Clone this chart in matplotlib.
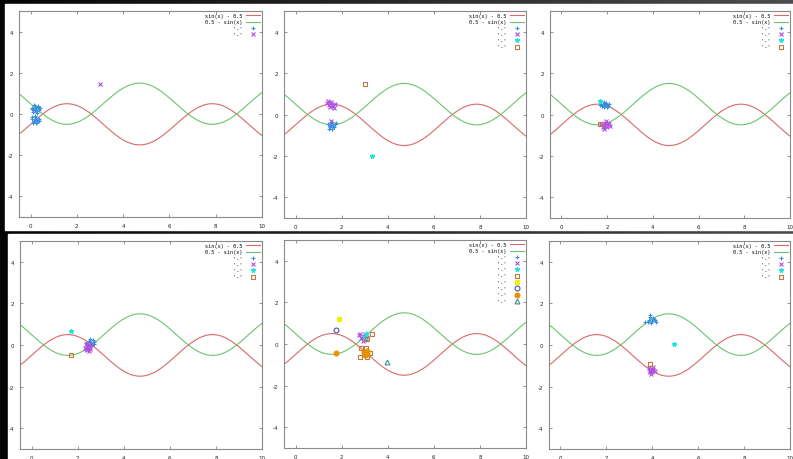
import numpy as np
import matplotlib.pyplot as plt
from matplotlib.patches import Rectangle

plt.rcParams['axes.unicode_minus'] = False

# ---- data (six gnuplot frames) ----
# each panel: list of point series (x list, y list)
p1_s1_x = [0.05, 0.12, 0.18, 0.25, 0.30, 0.10, 0.22, 0.35, 0.15, 0.28, 0.40, 0.08, 0.20, 0.32,
           0.05, 0.15, 0.22, 0.30, 0.12, 0.25, 0.35, 0.18, 0.08, 0.28, 0.20, 0.38]
p1_s1_y = [0.30, 0.22, 0.38, 0.15, 0.32, 0.10, 0.28, 0.20, 0.42, 0.05, 0.30, 0.25, 0.18, 0.40,
           -0.25, -0.35, -0.20, -0.30, -0.42, -0.45, -0.22, -0.28, -0.15, -0.38, -0.10, -0.35]
p1_s2_x = [3.0]
p1_s2_y = [1.45]

p2_s1_x = [1.40, 1.50, 1.55, 1.62, 1.70, 1.45, 1.58, 1.52, 1.66, 1.75, 1.48, 1.60]
p2_s1_y = [-0.45, -0.60, -0.40, -0.55, -0.48, -0.70, -0.35, -0.52, -0.62, -0.42, -0.55, -0.72]
p2_s2_x = [1.35, 1.45, 1.55, 1.62, 1.50, 1.70, 1.40, 1.58, 1.65, 1.48, 1.52]
p2_s2_y = [0.55, 0.45, 0.60, 0.40, 0.35, 0.52, 0.65, 0.48, 0.30, 0.55, -0.32]
p2_s3_x = [3.33]
p2_s3_y = [-2.0]
p2_s4_x = [3.0]
p2_s4_y = [1.45]

p3_s1_x = [1.70, 1.80, 1.88, 1.95, 2.05, 1.85, 1.92, 2.00, 1.78, 2.10, 1.98]
p3_s1_y = [0.45, 0.50, 0.38, 0.55, 0.42, 0.60, 0.48, 0.35, 0.40, 0.50, 0.44]
p3_s2_x = [1.75, 1.85, 1.92, 2.00, 2.08, 1.88, 1.95, 1.80, 2.02, 1.90, 2.12]
p3_s2_y = [-0.45, -0.55, -0.40, -0.60, -0.48, -0.68, -0.30, -0.60, -0.42, -0.50, -0.55]
p3_s3_x = [1.68]
p3_s3_y = [0.64]
p3_s4_x = [1.70]
p3_s4_y = [-0.48]

p4_s1_x = [2.40, 2.50, 2.58, 2.65, 2.72, 2.45, 2.55, 2.62, 2.48, 2.70, 2.35]
p4_s1_y = [0.05, 0.20, 0.10, 0.25, 0.05, -0.05, 0.30, -0.02, 0.15, 0.15, 0.10]
p4_s2_x = [2.30, 2.40, 2.45, 2.52, 2.38, 2.55, 2.48, 2.42, 2.58, 2.35]
p4_s2_y = [-0.15, -0.25, 0.00, -0.10, 0.05, -0.20, -0.30, -0.08, 0.05, -0.20]
p4_s3_x = [1.72]
p4_s3_y = [0.68]
p4_s4_x = [1.72]
p4_s4_y = [-0.47]

p5_s1_x = [3.06, 3.10, 2.98, 3.05]
p5_s1_y = [0.55, 0.40, 0.30, 0.20]
p5_s2_x = [2.75, 2.85, 2.95, 3.00, 2.80, 3.05, 2.92, 3.02]
p5_s2_y = [0.45, 0.30, 0.40, 0.25, 0.50, 0.35, 0.15, 0.48]
p5_s3_x = [3.05, 3.00]
p5_s3_y = [0.50, 0.35]
p5_s4_x = [3.30, 3.08, 2.85, 3.05, 2.80, 3.25, 2.95, 3.10]
p5_s4_y = [0.48, 0.22, -0.20, -0.20, -0.62, -0.45, -0.50, -0.62]
p5_s5_x = [1.90]
p5_s5_y = [1.20]
p5_s6_x = [1.74]
p5_s6_y = [0.67]
p5_s7_x = [1.74, 2.98, 3.05, 3.10, 3.00, 3.08]
p5_s7_y = [-0.45, -0.38, -0.45, -0.35, -0.52, -0.50]
p5_s8_x = [3.96]
p5_s8_y = [-0.85]

p6_s1_x = [3.70, 3.85, 3.92, 4.00, 4.08, 3.95, 4.15, 3.88, 4.02, 3.80, 4.10]
p6_s1_y = [1.12, 1.20, 1.35, 1.15, 1.25, 1.05, 1.10, 1.45, 1.30, 1.10, 1.20]
p6_s2_x = [3.85, 3.92, 4.00, 3.95, 4.05, 3.88, 4.02, 3.98, 4.10, 3.90]
p6_s2_y = [-1.10, -1.25, -1.15, -1.40, -1.20, -1.32, -1.05, -1.30, -1.25, -1.18]
p6_s3_x = [4.93]
p6_s3_y = [0.06]
p6_s4_x = [3.92]
p6_s4_y = [-0.90]

panels = [
    [(p1_s1_x, p1_s1_y), (p1_s2_x, p1_s2_y)],
    [(p2_s1_x, p2_s1_y), (p2_s2_x, p2_s2_y), (p2_s3_x, p2_s3_y), (p2_s4_x, p2_s4_y)],
    [(p3_s1_x, p3_s1_y), (p3_s2_x, p3_s2_y), (p3_s3_x, p3_s3_y), (p3_s4_x, p3_s4_y)],
    [(p4_s1_x, p4_s1_y), (p4_s2_x, p4_s2_y), (p4_s3_x, p4_s3_y), (p4_s4_x, p4_s4_y)],
    [(p5_s1_x, p5_s1_y), (p5_s2_x, p5_s2_y), (p5_s3_x, p5_s3_y), (p5_s4_x, p5_s4_y),
     (p5_s5_x, p5_s5_y), (p5_s6_x, p5_s6_y), (p5_s7_x, p5_s7_y), (p5_s8_x, p5_s8_y)],
    [(p6_s1_x, p6_s1_y), (p6_s2_x, p6_s2_y), (p6_s3_x, p6_s3_y), (p6_s4_x, p6_s4_y)],
]

x_ticks = [0, 2, 4, 6, 8, 10]
y_ticks = [-4, -2, 0, 2, 4]
curve_labels = ["sin(x) - 0.5", "0.5 - sin(x)"]
point_label = "'-'"

# gnuplot point styles: (marker, colour, filled)
styles = [
    ('+', '#3a8fdc', True),
    ('x', '#b050e0', True),
    ('*', '#20e0e0', True),
    ('s', '#c07840', False),
    ('s', '#f0f000', True),
    ('o', '#5050a8', False),
    ('o', '#e89000', True),
    ('^', '#409090', False),
]

W, H = 793, 460
fig = plt.figure(figsize=(W / 100, H / 100), dpi=100)

# dark desktop-ish backdrop
bg = fig.add_axes([0, 0, 1, 1])
grad = np.tile(np.linspace(0.02, 0.30, 256), (16, 1))
bg.imshow(grad, cmap='gray', vmin=0, vmax=1, aspect='auto', extent=[0, W, H, 0])
bg.set_xlim(0, W)
bg.set_ylim(H, 0)
bg.axis('off')
bg.add_patch(Rectangle((5, 5), W - 5, 226, color='white'))
bg.add_patch(Rectangle((8, 235), W - 8, H - 235, color='white'))

# axes frames in pixel coordinates (left, top, right, bottom)
boxes = [(19, 12, 262, 218), (284, 12, 526, 219), (550, 12, 790, 219),
         (20, 242, 262, 450), (284, 241, 526, 449), (549, 242, 790, 450)]

xs = np.linspace(-0.5, 10, 400)

for (l, t, r, b), series in zip(boxes, panels):
    ax = fig.add_axes([l / W, 1 - b / H, (r - l) / W, (b - t) / H])
    ax.patch.set_alpha(0)
    ax.plot(xs, np.sin(xs) - 0.5, color='#d86a6a', lw=0.8, label=curve_labels[0])
    ax.plot(xs, 0.5 - np.sin(xs), color='#6cc46c', lw=0.8, label=curve_labels[1])
    for (sx, sy), (m, c, filled) in zip(series, styles):
        ax.plot(sx, sy, ls='none', marker=m, ms=3.5, mew=0.8, color=c,
                mfc=c if filled else 'none', label=point_label.rjust(12))
    ax.set_xlim(-0.5, 10)
    ax.set_ylim(-5, 5)
    ax.set_xticks(x_ticks)
    ax.set_yticks(y_ticks)
    ax.tick_params(direction='in', length=2.5, width=0.6, color='#808080',
                   labelsize=4, labelcolor='#222222', pad=4,
                   top=True, right=True)
    for sp in ax.spines.values():
        sp.set_color('#8a8a8a')
        sp.set_linewidth(0.8)
    ax.legend(loc='upper right', frameon=False, markerfirst=False,
              prop=dict(family='DejaVu Sans Mono', size=3.7),
              handlelength=2.7, handletextpad=0.6, labelspacing=0.25,
              borderaxespad=0.2, borderpad=0.2)

fig.savefig('out.png', dpi=100)
